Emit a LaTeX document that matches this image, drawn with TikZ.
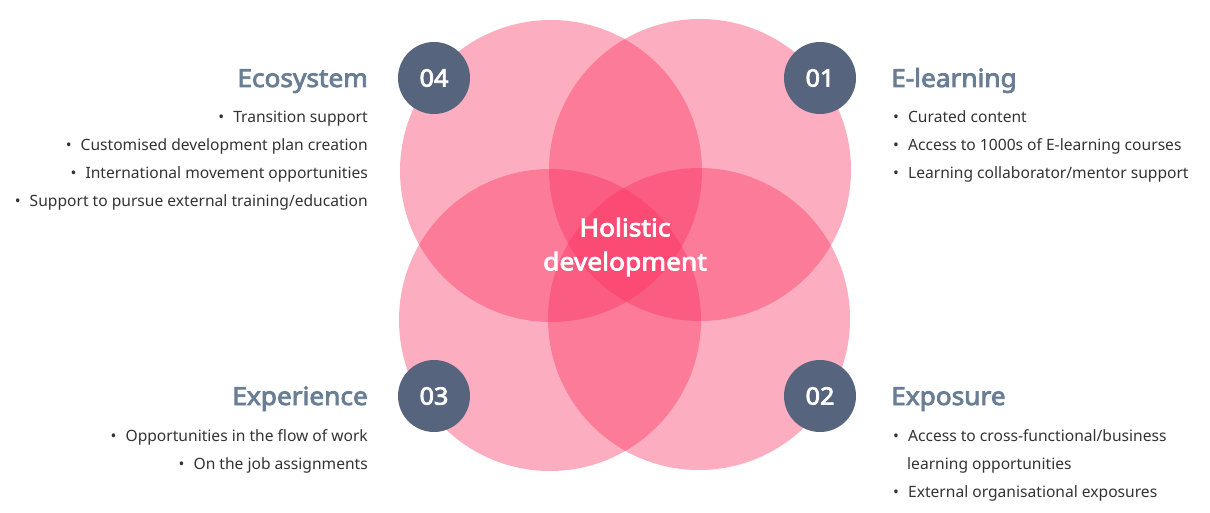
\documentclass[tikz,border=0pt]{standalone}
\usepackage{fontspec}
\setmainfont{Noto Sans}
\newfontfamily\heavyfont{Noto Sans}[FakeBold=3.2, FakeStretch=1.05]
\newfontfamily\heavywidefont{Noto Sans}[FakeBold=3.2, FakeStretch=1.08]
\usepackage{tikz}
\usetikzlibrary{positioning}

\definecolor{petalpink}{RGB}{250,45,93}
\definecolor{badgeblue}{RGB}{86,100,125}
\definecolor{headgrey}{RGB}{105,126,148}
\definecolor{bodygrey}{RGB}{51,51,51}

\newcommand{\dotitem}{•\hspace{0.58em}}

\begin{document}
\begin{tikzpicture}[
			x=1pt, y=-1pt,
			petal/.style={circle, fill=petalpink, fill opacity=0.39, minimum size=302pt, inner sep=0pt},
			badge/.style={circle, fill=badgeblue, minimum size=72pt, inner sep=0pt, text=white, font=\heavyfont\fontsize{24}{28}\selectfont},
			head/.style={inner sep=0pt, text=headgrey, font=\heavyfont\fontsize{25}{30}\selectfont},
			item/.style={inner sep=0pt, text=bodygrey, font=\fontsize{15.6}{28}\selectfont},
			core/.style={align=center, text=white, font=\heavywidefont\fontsize{24.5}{34}\selectfont}
		]

		\useasboundingbox (0,0) rectangle (1210,513);

		% overlapping circles
		\node[petal] (p1) at (700,170) {};
		\node[petal] (p2) at (699,319) {};
		\node[petal] (p3) at (550,320) {};
		\node[petal] (p4) at (551,171) {};

		\node[core] (hub) at (625,247) {Holistic\\development};

		% numbered badges
		\node[badge] (b1) at (820,78) {01};
		\node[badge] (b2) at (820,396) {02};
		\node[badge] (b3) at (434,396) {03};
		\node[badge] (b4) at (434,78) {04};

		% 04 Ecosystem
		\node[head, anchor=base east] (h4) at (368,87) {Ecosystem};
		\node[item, anchor=base east] (e1) at (368,123) {\dotitem Transition support};
		\node[item, anchor=base east] (e2) at (368,151) {\dotitem Customised development plan creation};
		\node[item, anchor=base east] (e3) at (368,179) {\dotitem International movement opportunities};
		\node[item, anchor=base east] (e4) at (368,207) {\dotitem Support to pursue external training/education};

		% 01 E-learning
		\node[head, anchor=base west] (h1) at (891,87) {E-learning};
		\node[item, anchor=base west] (l1) at (893,123) {\dotitem Curated content};
		\node[item, anchor=base west] (l2) at (893,151) {\dotitem Access to 1000s of E-learning courses};
		\node[item, anchor=base west] (l3) at (893,179) {\dotitem Learning collaborator/mentor support};

		% 03 Experience
		\node[head, anchor=base east] (h3) at (368,405) {Experience};
		\node[item, anchor=base east] (x1) at (368,441) {\dotitem Opportunities in the flow of work};
		\node[item, anchor=base east] (x2) at (368,469) {\dotitem On the job assignments};

		% 02 Exposure
		\node[head, anchor=base west] (h2) at (891,405) {Exposure};
		\node[item, anchor=base west] (s1) at (893,441) {\dotitem Access to cross-functional/business};
		\node[item, anchor=base west] (s2) at (907,469) {learning opportunities};
		\node[item, anchor=base west] (s3) at (893,497) {\dotitem External organisational exposures};
	\end{tikzpicture}
\end{document}
